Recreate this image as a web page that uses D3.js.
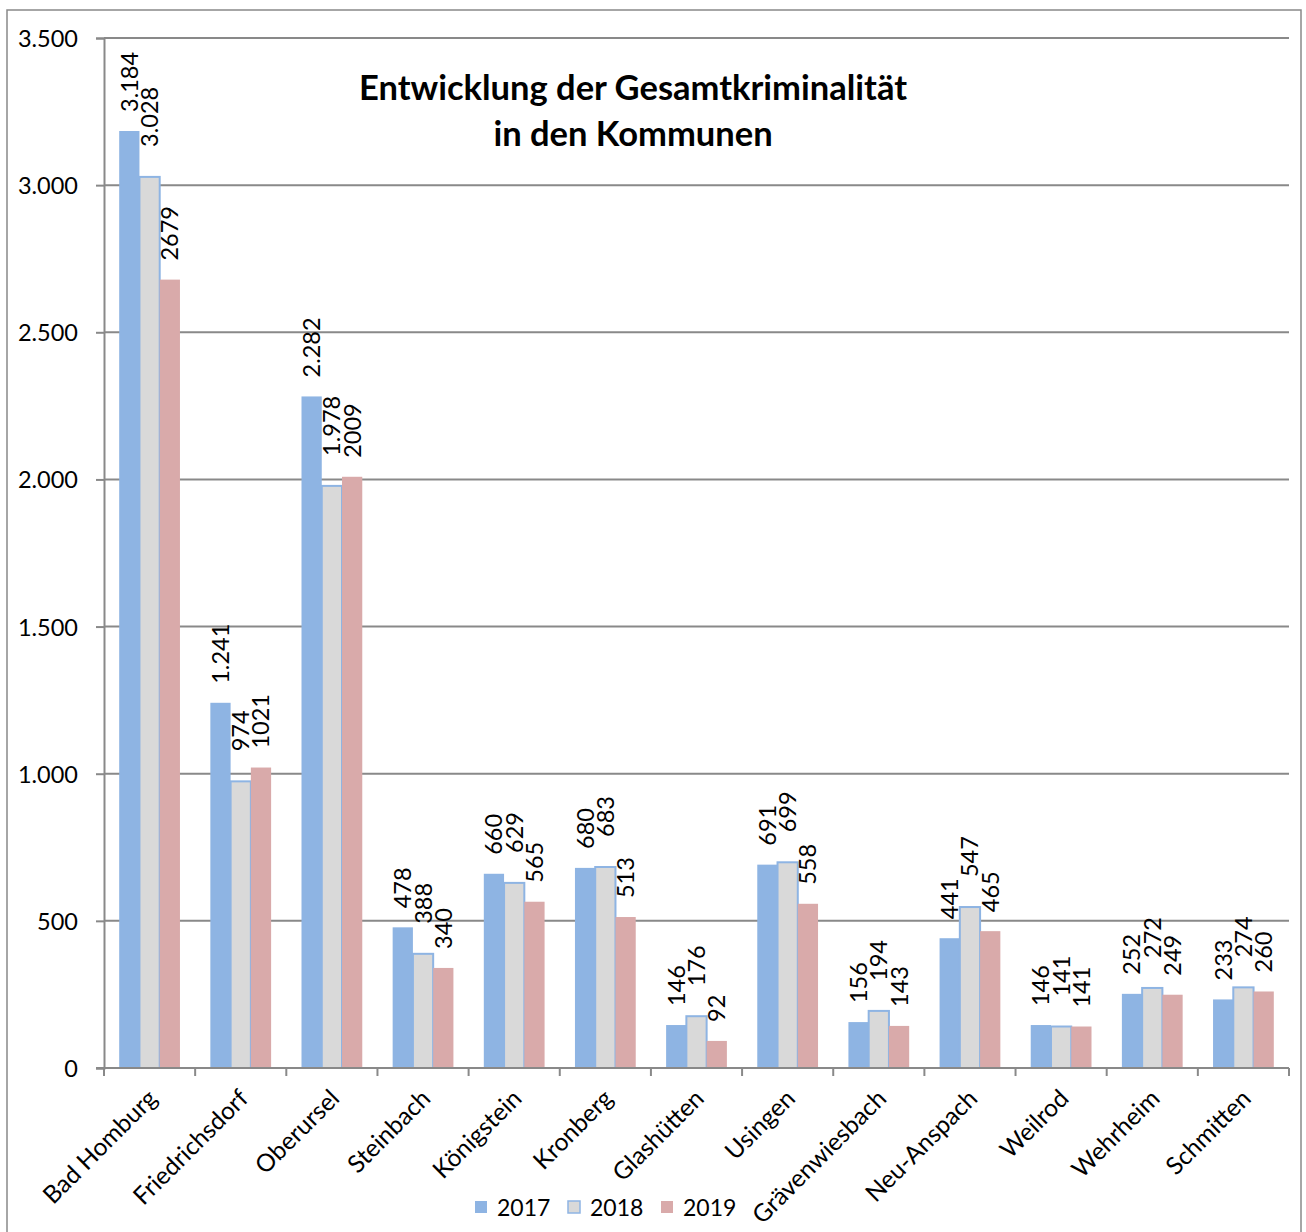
<!DOCTYPE html>
<html>
<head>
<meta charset="utf-8">
<script src="https://cdn.jsdelivr.net/npm/d3@7"></script>
<style>
body { margin: 0; background: #fff; }
text { font-family: Lato, "Open Sans", sans-serif; fill: #000; }
</style>
</head>
<body>
<div id="viz"></div>
<script>
var kommunen = ["Bad Homburg", "Friedrichsdorf", "Oberursel", "Steinbach", "Königstein", "Kronberg",
  "Glashütten", "Usingen", "Grävenwiesbach", "Neu-Anspach", "Weilrod", "Wehrheim", "Schmitten"]
var jahre = ["2017", "2018", "2019"]
var werte2017 = [3184, 1241, 2282, 478, 660, 680, 146, 691, 156, 441, 146, 252, 233]
var werte2018 = [3028, 974, 1978, 388, 629, 683, 176, 699, 194, 547, 141, 272, 274]
var werte2019 = [2679, 1021, 2009, 340, 565, 513, 92, 558, 143, 465, 141, 249, 260]
var yTicks = [0, 500, 1000, 1500, 2000, 2500, 3000, 3500]
var titel = ["Entwicklung der Gesamtkriminalität", "in den Kommunen"]

var width = 1306, height = 1232
var plot = {left: 104, right: 1289, top: 38, bottom: 1068}
var fills = {"2017": "#8eb4e3", "2018": "#d9d9d9", "2019": "#d9aaaa"}
var labelGap = {"2017": 19, "2018": 30, "2019": 19}
var grau = "#898989"

var deFormat = d3.formatLocale({decimal: ",", thousands: ".", grouping: [3], currency: ["", "€"]}).format(",d")
// 2019 labels come without the thousands dot in the original
var formats = {"2017": deFormat, "2018": deFormat, "2019": d3.format("d")}

var reihen = {"2017": werte2017, "2018": werte2018, "2019": werte2019}

var svg = d3.select("#viz").append("svg")
  .attr("width", width).attr("height", height)

// outer frame
svg.append("rect")
  .attr("x", 7).attr("y", 10).attr("width", 1294).attr("height", 1230)
  .attr("fill", "none").attr("stroke", grau).attr("stroke-width", 1.5)

var y = d3.scaleLinear().domain([0, 3500]).range([plot.bottom, plot.top])
var x0 = d3.scaleBand().domain(kommunen).range([plot.left, plot.right])
var bw = x0.bandwidth()
var x1 = d3.scaleBand().domain(jahre).range([bw / 6, bw * 5 / 6])

// gridlines
svg.append("g").selectAll("line").data(yTicks.slice(1)).join("line")
  .attr("x1", plot.left).attr("x2", plot.right)
  .attr("y1", function(d) { return y(d) }).attr("y2", function(d) { return y(d) })
  .attr("stroke", grau).attr("stroke-width", 2)

// y axis
var yAxis = svg.append("g").attr("transform", "translate(" + plot.left + ",0)")
  .call(d3.axisLeft(y).tickValues(yTicks).tickSize(8).tickPadding(18).tickFormat(deFormat))
yAxis.select(".domain").attr("stroke", grau).attr("stroke-width", 2)
yAxis.selectAll(".tick line").attr("stroke", grau).attr("stroke-width", 2)
yAxis.selectAll(".tick text").attr("font-size", "23.5px").attr("font-family", "Lato").attr("dy", "0.36em")

// bars
var gruppen = svg.append("g").selectAll("g").data(kommunen).join("g")
  .attr("transform", function(d) { return "translate(" + x0(d) + ",0)" })

gruppen.selectAll("rect")
  .data(function(d, i) { return jahre.map(function(j) { return {jahr: j, wert: reihen[j][i]} }) })
  .join("rect")
  .attr("x", function(d) { return x1(d.jahr) })
  .attr("width", x1.bandwidth())
  .attr("y", function(d) { return y(d.wert) })
  .attr("height", function(d) { return y(0) - y(d.wert) })
  .attr("fill", function(d) { return fills[d.jahr] })
  .attr("stroke", function(d) { return d.jahr == "2018" ? "#8eb4e3" : "none" })
  .attr("stroke-width", 2)

gruppen.selectAll("text")
  .data(function(d, i) { return jahre.map(function(j) { return {jahr: j, wert: reihen[j][i]} }) })
  .join("text")
  .attr("transform", function(d) {
    var cx = x1(d.jahr) + x1.bandwidth() / 2
    return "translate(" + cx + "," + (y(d.wert) - labelGap[d.jahr]) + ") rotate(-90)"
  })
  .attr("dy", "0.36em")
  .attr("font-size", "23.5px")
  .text(function(d) { return formats[d.jahr](d.wert) })

// x axis
var xAxis = svg.append("g").attr("transform", "translate(0," + plot.bottom + ")")
xAxis.append("line").attr("x1", plot.left - 8).attr("x2", plot.right)
  .attr("stroke", grau).attr("stroke-width", 2)
xAxis.selectAll(".xtick").data(kommunen.concat(["_end"])).join("line")
  .attr("class", "xtick")
  .attr("x1", function(d, i) { return plot.left + i * bw }).attr("x2", function(d, i) { return plot.left + i * bw })
  .attr("y1", 0).attr("y2", 8)
  .attr("stroke", grau).attr("stroke-width", 2)
xAxis.selectAll("text").data(kommunen).join("text")
  .attr("transform", function(d) { return "translate(" + (x0(d) + bw / 2 + 9) + ",32) rotate(-45)" })
  .attr("text-anchor", "end")
  .attr("font-size", "24.5px")
  .text(function(d) { return d })

// title
svg.append("g").selectAll("text").data(titel).join("text")
  .attr("x", 633).attr("y", function(d, i) { return 100 + i * 46 })
  .attr("text-anchor", "middle")
  .attr("font-size", "34.5px").attr("font-weight", "bold")
  .text(function(d) { return d })

// legend
var legende = svg.append("g").selectAll("g").data(jahre).join("g")
  .attr("transform", function(d, i) { return "translate(" + (475 + i * 93) + ",1201)" })
legende.append("rect")
  .attr("width", 12).attr("height", 12)
  .attr("fill", function(d) { return fills[d] })
  .attr("stroke", function(d) { return d == "2018" ? "#8eb4e3" : "none" })
  .attr("stroke-width", 1.5)
legende.append("text")
  .attr("x", 22).attr("y", 15)
  .attr("font-size", "23px")
  .text(function(d) { return d })
</script>
</body>
</html>
